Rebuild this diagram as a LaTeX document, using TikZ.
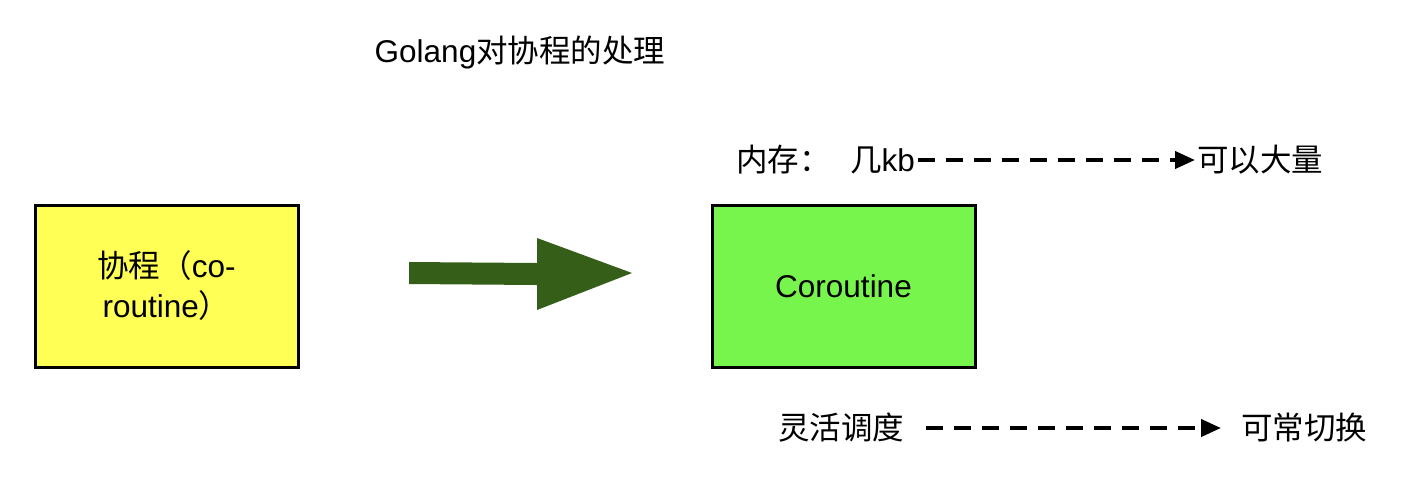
\documentclass[tikz,border=0pt]{standalone}
\usepackage{fontspec}
\setmainfont{Liberation Sans}
\newfontfamily\cjk{Noto Sans CJK SC}
\usetikzlibrary{arrows.meta}
\definecolor{boxyellow}{RGB}{255,255,85}
\definecolor{boxgreen}{RGB}{119,245,77}
\definecolor{arrowgreen}{RGB}{53,94,24}
\tikzset{
  txt/.style={inner sep=0pt, font=\fontsize{31.5}{38}\selectfont},
  box/.style={draw=black, line width=3pt, minimum width=263pt, minimum height=162pt, align=center, inner sep=0pt, font=\fontsize{31.5}{40}\selectfont},
  dasharrow/.style={line width=4pt, dash pattern=on 17pt off 11pt, -{Triangle[length=20pt,width=17pt]}, shorten >=2pt, shorten <=3pt}
}
\begin{document}
\begin{tikzpicture}[x=1pt,y=-1pt]
\useasboundingbox (0,0) rectangle (1408,480);
% title
\node[txt] (title) at (520,52) {Golang{\cjk 对协程的处理}};
% boxes
\node[box, fill=boxyellow] (co) at (166.5,286) {{\cjk 协程（}co-\\routine{\cjk ）}};
\node[box, fill=boxgreen] (go) at (843.5,286) {Coroutine};
% big arrow
\fill[arrowgreen] (409,262) -- (537,263) -- (537,238) -- (632,273) -- (537,310) -- (537,285) -- (409,284) -- cycle;
% memory line
\node[txt, anchor=west] (mem) at (736,160) {{\cjk 内存：}};
\node[txt, anchor=west] (kb) at (850,160) {{\cjk 几}kb};
\node[txt, anchor=west] (many) at (1197,160) {{\cjk 可以大量}};
\draw[dasharrow] (kb.east) -- (many.west);
% schedule line
\node[txt, anchor=west] (flex) at (778,428) {{\cjk 灵活调度}};
\node[txt, anchor=west] (switch) at (1241,428) {{\cjk 可常切换}};
\draw[dasharrow, shorten <=22pt, shorten >=20pt] (flex.east) -- (switch.west);
\end{tikzpicture}
\end{document}
